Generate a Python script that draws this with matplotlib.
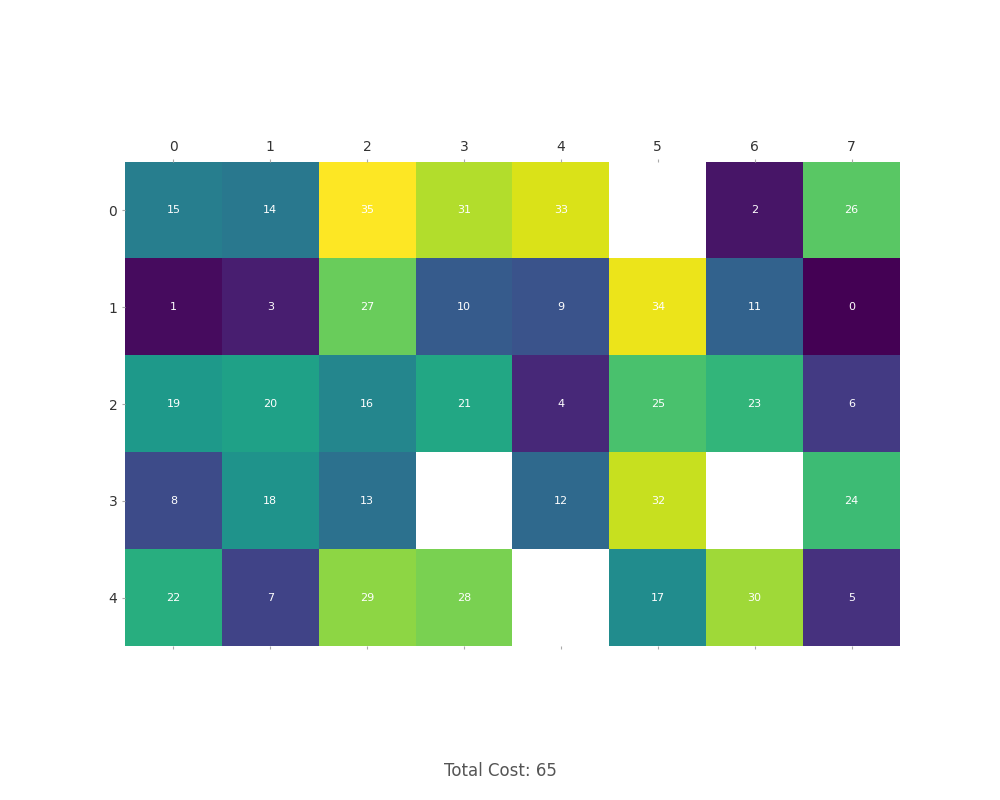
import numpy as np
import matplotlib.pyplot as plt

# grille des coûts (NaN = case vide)
row0 = [15, 14, 35, 31, 33, np.nan, 2, 26]
row1 = [1, 3, 27, 10, 9, 34, 11, 0]
row2 = [19, 20, 16, 21, 4, 25, 23, 6]
row3 = [8, 18, 13, np.nan, 12, 32, np.nan, 24]
row4 = [22, 7, 29, 28, np.nan, 17, 30, 5]
total_cost = 65

grid = np.array([row0, row1, row2, row3, row4])
n_rows, n_cols = grid.shape

fig, ax = plt.subplots(figsize=(10, 8), dpi=100)
ax.imshow(np.ma.masked_invalid(grid), cmap='viridis', vmin=0, vmax=35)

for i in range(n_rows):
    for j in range(n_cols):
        if not np.isnan(grid[i, j]):
            ax.text(j, i, f"{int(grid[i, j])}", ha='center', va='center',
                    color='white', fontsize=8)

ax.set_xticks(range(n_cols))
ax.set_yticks(range(n_rows))
ax.tick_params(top=True, labeltop=True, bottom=True, labelbottom=False,
               length=2, color='#aaaaaa', labelsize=10, labelcolor='#333333')
for s in ax.spines.values():
    s.set_visible(False)

fig.text(0.5, 0.03, f"Total Cost: {total_cost}", ha='center', fontsize=12, color='#555555')

plt.savefig('out.png')
